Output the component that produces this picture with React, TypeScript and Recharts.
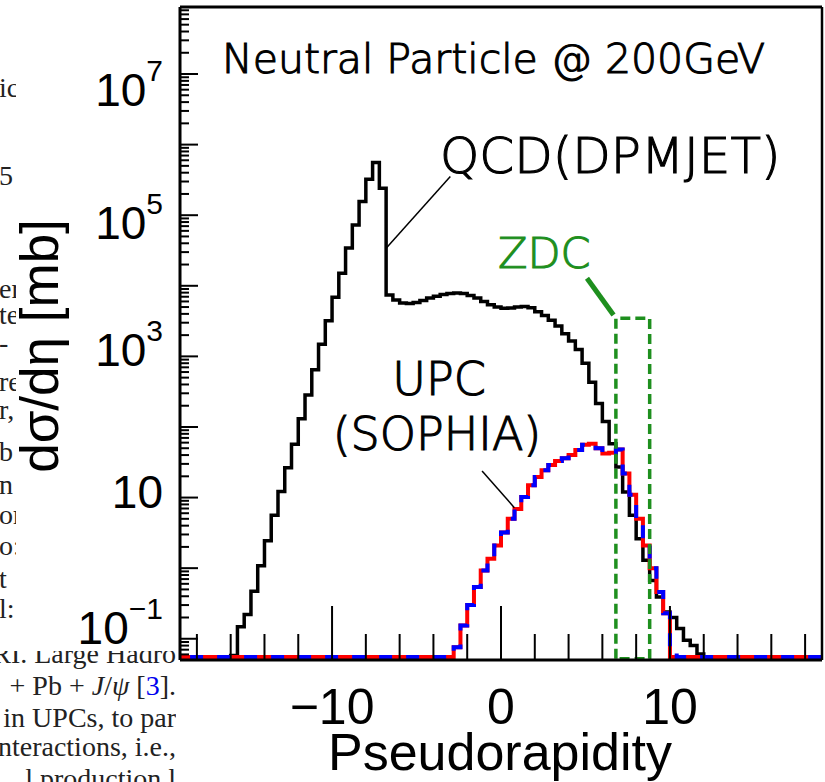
import React from "react";
import { LineChart, Line, XAxis, YAxis, ReferenceLine } from "recharts";

const W = 825;
const H = 782;

// histogram binning (pseudorapidity), bins of 0.4 starting at -20
const BIN = 0.4;
const EDGE_MIN = -20;
const EDGE_MAX = 20;
const FLOOR = 0.055; // empty bins sit on the bottom of the log axis

// QCD (DPMJET), first non-empty bin starts at eta = -16.0
const qcdStart = -16.0;
const qcdValues = [
  0.058, 0.148, 0.22, 0.47, 1.08, 2.45, 5.6, 12.2, 26.5, 57, 131, 283, 646, 1480, 3200,
  6900, 15000, 34400, 72800, 156000, 324000, 557000, 241000,
  7400, 6300, 5700, 5600, 5800, 6200, 6700, 7100, 7500, 7800, 7900, 7800, 7300, 6700,
  6000, 5400, 5000, 4800, 4850, 5000, 5100, 4900, 4300, 3800, 3250, 2700, 2100, 1650,
  1250, 800, 430, 215, 120, 58, 27, 12, 5.6, 2.6, 1.29, 0.67, 0.39, 0.24, 0.2, 0.14,
  0.095, 0.08, 0.061,
];

// UPC (SOPHIA), first non-empty bin starts at eta = -2.8
const upcStart = -2.8;
const upcRedValues = [
  0.076, 0.154, 0.3, 0.54, 0.93, 1.36, 2.1, 3.2, 5.0, 6.9, 10.2, 14.9, 19.5, 24.3, 29, 33,
  36, 40, 47, 56, 58, 50, 42, 43, 48, 22, 11, 5.0, 2.1, 1.0, 0.46, 0.23,
];
const upcBlueValues = [
  0.076, 0.154, 0.3, 0.54, 0.93, 1.36, 2.1, 3.2, 5.0, 6.9, 10.2, 14.9, 19.5, 24.3, 29, 33,
  36, 40, 47, 56, 58, 50, 42, 43, 48, 22, 11, 5.0, 2.1, 1.0, 0.46, 0.23, 0.062,
];

// ZDC acceptance box
const zdcEta = [6.8, 8.8];
const zdcTop = 3470;

const xTicks = [-18, -16, -14, -12, -10, -8, -6, -4, -2, 0, 2, 4, 6, 8, 10, 12, 14, 16, 18];
const xMajor = [-10, 0, 10];
const xLabels = ["\u221210", "0", "10"];

const yMin = 0.05;
const yMax = 8.9e7;
const yDecades = [-2, -1, 0, 1, 2, 3, 4, 5, 6, 7];
const yLabelExps = [-1, 1, 3, 5, 7];
const yLabelText = ["\u22121", "", "3", "5", "7"];
const yLabelShift: Record<number, number> = { 7: 32, 5: 24, 3: 10, 1: 10, "-1": 5 };

const binValue = (arr: number[], start: number, edge: number) => {
  const k = Math.round((edge - start) / BIN);
  return k >= 0 && k < arr.length ? arr[k] : 0;
};

const nBins = Math.round((EDGE_MAX - EDGE_MIN) / BIN);
const table: any[] = [];
for (let i = 0; i <= nBins; i++) {
  const edge = +(EDGE_MIN + Math.min(i, nBins - 1) * BIN).toFixed(1);
  table.push({
    x: +(EDGE_MIN + i * BIN).toFixed(1),
    qcd: Math.max(binValue(qcdValues, qcdStart, edge), FLOOR),
    upcRed: Math.max(binValue(upcRedValues, upcStart, edge), FLOOR),
    upcBlue: Math.max(binValue(upcBlueValues, upcStart, edge), FLOOR),
  });
}

const zdcBox = [
  { x: zdcEta[0], y: 0.052 },
  { x: zdcEta[0], y: zdcTop },
  { x: zdcEta[1], y: zdcTop },
  { x: zdcEta[1], y: 0.052 },
  { x: zdcEta[0], y: 0.052 },
];

const yTicks: number[] = [];
yDecades.forEach((d) => {
  for (let m = 1; m <= 9; m++) {
    const v = m * Math.pow(10, d);
    if (v >= yMin && v <= yMax) yTicks.push(v);
  }
});

const SANS = "'Liberation Sans', Arial, Helvetica, sans-serif";
const GOTHIC = "'DejaVu Sans', sans-serif";
const SERIF = "'Liberation Serif', 'Times New Roman', serif";
const GREEN = "#1e8f1e";

const XTick = (props: any) => {
  const { x, y, payload } = props;
  const idx = xMajor.indexOf(payload.value);
  const len = idx >= 0 ? 54 : 26;
  return (
    <g>
      <line x1={x} x2={x} y1={y} y2={y - len} stroke="#000" strokeWidth={2} />
      {idx >= 0 && (
        <text x={x} y={y + 64} textAnchor="middle" fontSize={50} fontFamily={SANS} fill="#000">
          {xLabels[idx]}
        </text>
      )}
    </g>
  );
};

const YTick = (props: any) => {
  const { x, y, payload } = props;
  const v = payload.value;
  const e = Math.round(Math.log10(v));
  const decade = Math.abs(v / Math.pow(10, e) - 1) < 1e-6;
  const li = decade ? yLabelExps.indexOf(e) : -1;
  return (
    <g>
      <line x1={x} x2={x + (decade ? 18 : 9)} y1={y} y2={y} stroke="#000" strokeWidth={2} />
      {li >= 0 && (
        <text x={163} y={y + yLabelShift[e]} textAnchor="end" fontSize={46} fontFamily={SANS} fill="#000">
          <tspan>10</tspan>
          {yLabelText[li] && (
            <tspan dy={-25} fontSize={30}>
              {yLabelText[li]}
            </tspan>
          )}
        </text>
      )}
    </g>
  );
};

const upperFragments = [
  ["ic", 97], ["5", 185], ["er", 298], ["te", 324], ["-", 352], ["re", 391], ["r,", 419],
  ["b", 461], ["n", 494], ["or", 524], ["o:", 555], ["t", 588], ["l:", 618],
];

export default function App() {
  return (
    <div style={{ position: "absolute", left: 0, top: 0, width: W, height: H, background: "#fff", overflow: "hidden" }}>
      <svg width={W} height={H} style={{ position: "absolute", left: 0, top: 0 }}>
        <defs>
          <clipPath id="upper">
            <rect x={0} y={0} width={16} height={650} />
          </clipPath>
          <clipPath id="lower">
            <rect x={0} y={651} width={176} height={131} />
          </clipPath>
        </defs>
        <g clipPath="url(#upper)" fontFamily={SERIF} fontSize={28} fill="#222">
          {upperFragments.map(([t, yy]) => (
            <text key={String(yy)} x={-1} y={yy as number}>
              {t}
            </text>
          ))}
        </g>
        <g clipPath="url(#lower)" fontFamily={SERIF} fontSize={28} fill="#222">
          <text x={176} y={663} textAnchor="end">RI. Large Hadro</text>
          <text x={176} y={695} textAnchor="end">
            + Pb + <tspan fontStyle="italic">J</tspan>/<tspan fontStyle="italic">ψ</tspan> [<tspan fill="#0000ee">3</tspan>].
          </text>
          <text x={176} y={727} textAnchor="end">in UPCs, to par</text>
          <text x={176} y={756} textAnchor="end">nteractions, i.e.,</text>
          <text x={176} y={788} textAnchor="end">l production l</text>
        </g>
      </svg>

      <div style={{ position: "absolute", left: 0, top: 0 }}>
        <LineChart width={W} height={H} data={table} margin={{ top: 6, right: 2, bottom: 121, left: 179 }}>
          <XAxis
            dataKey="x"
            type="number"
            domain={[-19, 19]}
            allowDataOverflow
            ticks={xTicks}
            interval={0}
            height={1}
            tickSize={0}
            tickMargin={0}
            tickLine={false}
            tick={<XTick />}
            axisLine={{ stroke: "#000", strokeWidth: 3 }}
          />
          <XAxis xAxisId="top" orientation="top" type="number" domain={[-19, 19]} height={1} ticks={[]} tick={false} tickLine={false} axisLine={{ stroke: "#000", strokeWidth: 3 }} />
          <YAxis
            type="number"
            scale="log"
            domain={[yMin, yMax]}
            allowDataOverflow
            ticks={yTicks}
            interval={0}
            width={1}
            tickSize={0}
            tickMargin={0}
            tickLine={false}
            tick={<YTick />}
            axisLine={{ stroke: "#000", strokeWidth: 3 }}
          />
          <YAxis yAxisId="right" orientation="right" type="number" domain={[0, 1]} width={1} ticks={[]} tick={false} tickLine={false} axisLine={{ stroke: "#000", strokeWidth: 2.5 }} />

          <Line type="stepAfter" dataKey="qcd" stroke="#000" strokeWidth={3.5} dot={false} isAnimationActive={false} />
          <Line type="stepAfter" dataKey="upcRed" stroke="#ff0000" strokeWidth={4} dot={false} isAnimationActive={false} />
          <Line type="stepAfter" dataKey="upcBlue" stroke="#0000ff" strokeWidth={4} strokeDasharray="13 14" dot={false} isAnimationActive={false} />
          <Line data={zdcBox} type="linear" dataKey="y" stroke={GREEN} strokeWidth={3.5} strokeDasharray="10 5" dot={false} isAnimationActive={false} />

          <ReferenceLine segment={[{ x: -3.0, y: 353000 }, { x: -6.8, y: 34000 }]} stroke="#000" strokeWidth={1.5} ifOverflow="visible" />
          <ReferenceLine segment={[{ x: -1.12, y: 23.8 }, { x: 0.79, y: 7.2 }]} stroke="#000" strokeWidth={1.5} ifOverflow="visible" />
          <ReferenceLine segment={[{ x: 5.09, y: 12800 }, { x: 6.66, y: 3850 }]} stroke={GREEN} strokeWidth={5} ifOverflow="visible" />
        </LineChart>
      </div>

      <svg width={W} height={H} style={{ position: "absolute", left: 0, top: 0, pointerEvents: "none" }}>
        <g fontFamily={GOTHIC} fontWeight={300} strokeWidth={1.1}>
          <text x={222} y={73} fontSize={41} fill="#000" stroke="#000">Neutral Particle @ 200GeV</text>
          <text x={440} y={173} fontSize={50} fill="#000" stroke="#000">QCD(DPMJET)</text>
          <text x={498} y={268} fontSize={43} fill={GREEN} stroke={GREEN}>ZDC</text>
          <text x={439} y={395} fontSize={46} fill="#000" stroke="#000" textAnchor="middle">UPC</text>
          <text x={437} y={450} fontSize={46} fill="#000" stroke="#000" textAnchor="middle">(SOPHIA)</text>
        </g>
        <text x={500} y={770} fontSize={52} fontFamily={SANS} fill="#000" textAnchor="middle">Pseudorapidity</text>
        <text transform="translate(58,346) rotate(-90)" fontSize={53} fontFamily={SANS} fill="#000" textAnchor="middle">dσ/dη [mb]</text>
      </svg>
    </div>
  );
}
